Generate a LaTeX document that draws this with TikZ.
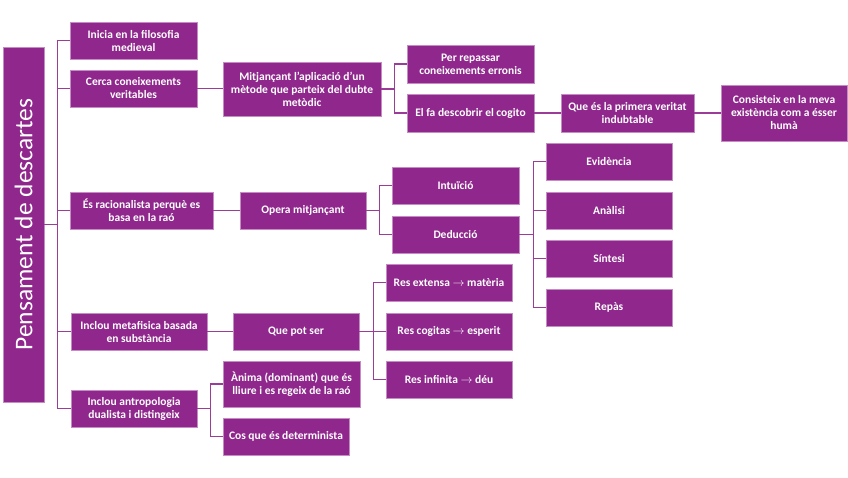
\documentclass[tikz,border=0pt]{standalone}
\usepackage{fontspec}
\setmainfont{Carlito}
\newcommand{\ra}{\ensuremath{\rightarrow}}
\definecolor{boxfill}{HTML}{8F278C}
\definecolor{boxedge}{HTML}{C58CC3}
\definecolor{linecol}{HTML}{9A3C98}
\begin{document}
\begin{tikzpicture}[x=1pt,y=-1pt,
  box/.style={draw=boxedge, line width=0.8pt, fill=boxfill, text=white,
    font=\fontsize{11.5}{13}\selectfont\bfseries, align=center, inner sep=1pt,
    minimum width=126pt, minimum height=37pt},
  conn/.style={draw=linecol, line width=1.3pt}]
\useasboundingbox (0,0) rectangle (848,477);
% root
\node[box, minimum width=41pt, minimum height=355pt] (root) at (23.5,224.5)
  {\rotatebox{90}{\fontsize{25.5}{25.5}\selectfont\mdseries Pensament de descartes}};
% level 1
\node[box, minimum width=127pt] (inicia) at (133.5,40.5) {Inicia en la filosofia\\medieval};
\node[box, minimum width=127pt] (cerca) at (133.5,88.5) {Cerca coneixements\\veritables};
\node[box, minimum width=143pt] (racional) at (141.5,210.5) {És racionalista perquè es\\basa en la raó};
\node[box, minimum width=136pt] (metaf) at (139,331.5) {Inclou metafisica basada\\en substància};
\node[box] (antrop) at (134,408.5) {Inclou antropologia\\dualista i distingeix};
% level 2
\node[box, minimum width=158pt, minimum height=54pt] (mitj) at (302,89) {Mitjançant l’aplicació d’un\\mètode que parteix del dubte\\metòdic};
\node[box] (opera) at (303,210.5) {Opera mitjançant};
\node[box] (quepot) at (296,331.5) {Que pot ser};
\node[box, minimum width=137pt, minimum height=46pt] (anima) at (291.5,384) {Ànima (dominant) que és\\lliure i es regeix de la raó};
\node[box] (cos) at (286,436.5) {Cos que és determinista};
% level 3
\node[box, minimum width=127pt, minimum height=38pt] (repassar) at (470.5,64) {Per repassar\\coneixements erronis};
\node[box, minimum width=127pt, minimum height=38pt] (elfa) at (470.5,113) {El fa descobrir el cogito};
\node[box, minimum width=127pt] (intuicio) at (455.5,185.5) {Intuïció};
\node[box, minimum width=127pt] (deduccio) at (455.5,234.5) {Deducció};
\node[box] (resext) at (449,282.5) {Res extensa \ra{} matèria};
\node[box] (rescog) at (449,331.5) {Res cogitas \ra{} esperit};
\node[box] (resinf) at (449,379.5) {Res infinita \ra{} déu};
% level 4
\node[box, minimum width=133pt, minimum height=38pt] (quees) at (627.5,113) {Que és la primera veritat\\indubtable};
\node[box] (evid) at (609,161.5) {Evidència};
\node[box] (analisi) at (609,210.5) {Anàlisi};
\node[box] (sintesi) at (609,258.5) {Síntesi};
\node[box] (repas) at (609,307.5) {Repàs};
% level 5
\node[box, minimum height=56pt] (consist) at (784,113) {Consisteix en la meva\\existència com a ésser\\humà};
% connectors
\foreach \c in {inicia,cerca,racional,metaf,antrop}
  \draw[conn] (root.east) -- ++(13,0) |- (\c.west);
\draw[conn] (cerca.east) -- (cerca.east -| mitj.west);
\foreach \c in {repassar,elfa}
  \draw[conn] (mitj.east) -- ++(13,0) |- (\c.west);
\draw[conn] (elfa.east) -- (quees.west);
\draw[conn] (quees.east) -- (consist.west);
\draw[conn] (racional.east) -- (opera.west);
\foreach \c in {intuicio,deduccio}
  \draw[conn] (opera.east) -- ++(13,0) |- (\c.west);
\foreach \c in {evid,analisi,sintesi,repas}
  \draw[conn] (deduccio.east) -- ++(14,0) |- (\c.west);
\draw[conn] (metaf.east) -- (quepot.west);
\foreach \c in {resext,rescog,resinf}
  \draw[conn] (quepot.east) -- ++(14,0) |- (\c.west);
\foreach \c in {anima,cos}
  \draw[conn] (antrop.east) -- ++(13,0) |- (\c.west);
\end{tikzpicture}
\end{document}
